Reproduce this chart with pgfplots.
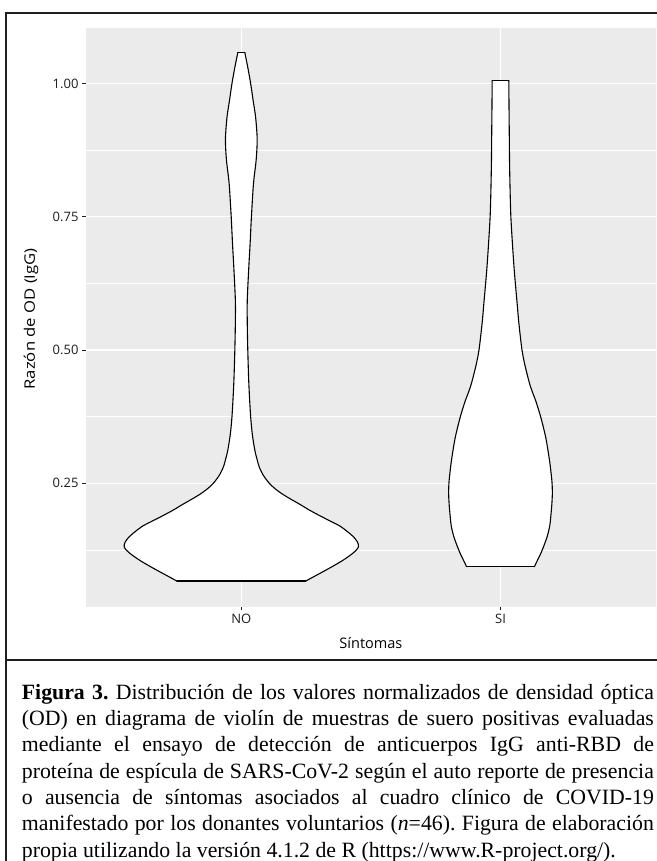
\documentclass[border=0pt]{standalone}
\usepackage{pgfplots}
\pgfplotsset{compat=1.18}
\usepackage{fontspec}
\setmainfont{Liberation Serif}
\newfontfamily\osans{Open Sans}
\definecolor{ggrey}{HTML}{EBEBEB}
\definecolor{tickc}{HTML}{1E1E1E}
\definecolor{framec}{HTML}{1F1F1F}
\begin{document}
\frenchspacing
\begin{tikzpicture}[x=1pt,y=1pt]
\useasboundingbox (0,0) rectangle (656,861);
\fill[white] (0,0) rectangle (656,861);
\begin{axis}[
  at={(85.8pt,254.3pt)}, anchor=south west, scale only axis,
  width=570.2pt, height=578.7pt,
  xmin=0.4, xmax=2.6, ymin=0.0186, ymax=1.104,
  axis background/.style={fill=ggrey},
  axis line style={draw=none},
  xtick={1,2}, xticklabels={NO,SI},
  ytick={0.25,0.5,0.75,1.0}, yticklabels={0.25,0.50,0.75,1.00},
  minor ytick={0.125,0.375,0.625,0.875},
  grid=both,
  major grid style={white, line width=1.4pt},
  minor grid style={white, line width=0.7pt},
  tick pos=left, tick align=outside,
  major tick length=3.8pt, minor tick length=0pt,
  tick style={tickc, line width=0.8pt},
  ticklabel style={font=\osans\fontsize{13}{15}\selectfont, text=tickc},
  /pgf/number format/assume math mode=true,
  xlabel={Síntomas}, ylabel={Razón de OD (IgG)},
  every axis x label/.style={at={(axis description cs:0.5,-0.0627)}, anchor=center, font=\osans\fontsize{14.5}{16}\selectfont},
  every axis y label/.style={at={(axis description cs:-0.0961,0.4975)}, anchor=center, rotate=90, xscale=1.15, font=\osans\fontsize{14.5}{16}\selectfont},
  vline/.style={draw=black, line width=1.1pt, line join=round, line cap=round},
]
% ---- NO violin: fill ----
\addplot[draw=none, fill=white] coordinates {
(1.249,0.0668)(1.280,0.075)(1.318,0.085)(1.355,0.095)(1.390,0.105)(1.420,0.115)(1.440,0.123)(1.452,0.131)(1.448,0.140)(1.432,0.150)(1.408,0.160)(1.380,0.170)(1.340,0.180)(1.300,0.190)(1.262,0.200)(1.228,0.210)(1.192,0.220)(1.158,0.230)(1.130,0.240)(1.108,0.250)(1.085,0.265)(1.069,0.281)(1.058,0.300)(1.052,0.3125)(1.043,0.340)(1.036,0.375)(1.029,0.4375)(1.025,0.500)(1.023,0.550)(1.023,0.594)(1.029,0.656)(1.034,0.700)(1.039,0.750)(1.047,0.8125)(1.056,0.850)(1.060,0.875)(1.061,0.900)(1.055,0.9375)(1.045,0.970)(1.036,1.000)(1.025,1.030)(1.0135,1.058)
(0.9865,1.058)(0.975,1.030)(0.964,1.000)(0.955,0.970)(0.945,0.9375)(0.939,0.900)(0.940,0.875)(0.944,0.850)(0.953,0.8125)(0.961,0.750)(0.966,0.700)(0.971,0.656)(0.977,0.594)(0.977,0.550)(0.975,0.500)(0.971,0.4375)(0.964,0.375)(0.957,0.340)(0.948,0.3125)(0.942,0.300)(0.931,0.281)(0.915,0.265)(0.892,0.250)(0.870,0.240)(0.842,0.230)(0.808,0.220)(0.772,0.210)(0.738,0.200)(0.700,0.190)(0.660,0.180)(0.620,0.170)(0.592,0.160)(0.568,0.150)(0.552,0.140)(0.548,0.131)(0.560,0.123)(0.580,0.115)(0.610,0.105)(0.645,0.095)(0.682,0.085)(0.720,0.075)(0.751,0.0668)
} --cycle;
% NO outline: right side
\addplot[vline, smooth, tension=0.5] coordinates {
(1.249,0.0668)(1.280,0.075)(1.318,0.085)(1.355,0.095)(1.390,0.105)(1.420,0.115)(1.440,0.123)(1.452,0.131)(1.448,0.140)(1.432,0.150)(1.408,0.160)(1.380,0.170)(1.340,0.180)(1.300,0.190)(1.262,0.200)(1.228,0.210)(1.192,0.220)(1.158,0.230)(1.130,0.240)(1.108,0.250)(1.085,0.265)(1.069,0.281)(1.058,0.300)(1.052,0.3125)(1.043,0.340)(1.036,0.375)(1.029,0.4375)(1.025,0.500)(1.023,0.550)(1.023,0.594)(1.029,0.656)(1.034,0.700)(1.039,0.750)(1.047,0.8125)(1.056,0.850)(1.060,0.875)(1.061,0.900)(1.055,0.9375)(1.045,0.970)(1.036,1.000)(1.025,1.030)(1.0135,1.058)
};
% NO outline: left side
\addplot[vline, smooth, tension=0.5] coordinates {
(0.9865,1.058)(0.975,1.030)(0.964,1.000)(0.955,0.970)(0.945,0.9375)(0.939,0.900)(0.940,0.875)(0.944,0.850)(0.953,0.8125)(0.961,0.750)(0.966,0.700)(0.971,0.656)(0.977,0.594)(0.977,0.550)(0.975,0.500)(0.971,0.4375)(0.964,0.375)(0.957,0.340)(0.948,0.3125)(0.942,0.300)(0.931,0.281)(0.915,0.265)(0.892,0.250)(0.870,0.240)(0.842,0.230)(0.808,0.220)(0.772,0.210)(0.738,0.200)(0.700,0.190)(0.660,0.180)(0.620,0.170)(0.592,0.160)(0.568,0.150)(0.552,0.140)(0.548,0.131)(0.560,0.123)(0.580,0.115)(0.610,0.105)(0.645,0.095)(0.682,0.085)(0.720,0.075)(0.751,0.0668)
};
% NO flat ends
\addplot[vline] coordinates {(0.751,0.0668)(1.249,0.0668)};
\addplot[vline] coordinates {(0.9865,1.058)(1.0135,1.058)};
% ---- SI violin: fill ----
\addplot[draw=none, fill=white] coordinates {
(2.131,0.0937)(2.142,0.105)(2.155,0.118)(2.166,0.131)(2.180,0.150)(2.190,0.170)(2.194,0.1875)(2.198,0.210)(2.200,0.230)(2.199,0.250)(2.195,0.270)(2.190,0.290)(2.183,0.3125)(2.175,0.335)(2.165,0.356)(2.152,0.380)(2.135,0.406)(2.124,0.420)(2.112,0.4375)(2.095,0.470)(2.083,0.500)(2.071,0.550)(2.063,0.594)(2.053,0.650)(2.046,0.700)(2.040,0.750)(2.037,0.800)(2.035,0.850)(2.034,0.900)(2.033,0.950)(2.032,1.005)
(1.968,1.005)(1.967,0.950)(1.966,0.900)(1.965,0.850)(1.963,0.800)(1.960,0.750)(1.954,0.700)(1.947,0.650)(1.937,0.594)(1.929,0.550)(1.917,0.500)(1.905,0.470)(1.888,0.4375)(1.876,0.420)(1.865,0.406)(1.848,0.380)(1.835,0.356)(1.825,0.335)(1.817,0.3125)(1.810,0.290)(1.805,0.270)(1.801,0.250)(1.800,0.230)(1.802,0.210)(1.806,0.1875)(1.810,0.170)(1.820,0.150)(1.834,0.131)(1.845,0.118)(1.858,0.105)(1.869,0.0937)
} --cycle;
\addplot[vline, smooth, tension=0.5] coordinates {
(2.131,0.0937)(2.142,0.105)(2.155,0.118)(2.166,0.131)(2.180,0.150)(2.190,0.170)(2.194,0.1875)(2.198,0.210)(2.200,0.230)(2.199,0.250)(2.195,0.270)(2.190,0.290)(2.183,0.3125)(2.175,0.335)(2.165,0.356)(2.152,0.380)(2.135,0.406)(2.124,0.420)(2.112,0.4375)(2.095,0.470)(2.083,0.500)(2.071,0.550)(2.063,0.594)(2.053,0.650)(2.046,0.700)(2.040,0.750)(2.037,0.800)(2.035,0.850)(2.034,0.900)(2.033,0.950)(2.032,1.005)
};
\addplot[vline, smooth, tension=0.5] coordinates {
(1.968,1.005)(1.967,0.950)(1.966,0.900)(1.965,0.850)(1.963,0.800)(1.960,0.750)(1.954,0.700)(1.947,0.650)(1.937,0.594)(1.929,0.550)(1.917,0.500)(1.905,0.470)(1.888,0.4375)(1.876,0.420)(1.865,0.406)(1.848,0.380)(1.835,0.356)(1.825,0.335)(1.817,0.3125)(1.810,0.290)(1.805,0.270)(1.801,0.250)(1.800,0.230)(1.802,0.210)(1.806,0.1875)(1.810,0.170)(1.820,0.150)(1.834,0.131)(1.845,0.118)(1.858,0.105)(1.869,0.0937)
};
\addplot[vline] coordinates {(1.869,0.0937)(2.131,0.0937)};
\addplot[vline] coordinates {(1.968,1.005)(2.032,1.005)};
\end{axis}
% frame
\draw[framec, line width=2pt] (6.3,0) -- (6.3,847.7) -- (657,847.7);
\draw[framec, line width=2pt] (6.3,201) -- (657,201);
% caption
\node[anchor=north west, inner sep=0pt, text width=632pt, align=justify,
      font=\fontsize{21.8}{26.3}\selectfont] at (21.7,177) {%
\textbf{Figura 3.} Distribución de los valores normalizados de densidad óptica\linebreak
(OD) en diagrama de violín de muestras de suero positivas evaluadas\linebreak
mediante el ensayo de detección de anticuerpos IgG anti-RBD de\linebreak
proteína de espícula de SARS-CoV-2 según el auto reporte de presencia\linebreak
o ausencia de síntomas asociados al cuadro clínico de COVID-19\linebreak
manifestado por los donantes voluntarios (\textit{n}=46). Figura de elaboración\linebreak
propia utilizando la versión 4.1.2 de R (https://www.R-project.org/).};
\end{tikzpicture}
\end{document}
